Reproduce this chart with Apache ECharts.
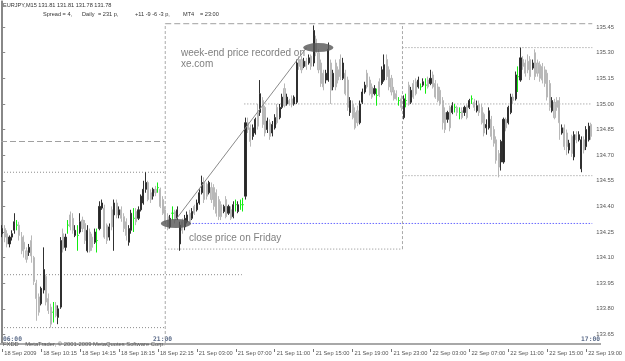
<!DOCTYPE html>
<html><head><meta charset="utf-8">
<script src="https://cdn.jsdelivr.net/npm/echarts@6/dist/echarts.min.js"></script>
<style>html,body{margin:0;padding:0;background:#fff}#c{width:625px;height:361px}</style>
</head><body><div id="c"></div>
<script>
const opens = [
134.24,134.27,134.24,134.18,134.22,134.26,134.29,134.29,134.22,134.19,
134.14,134.13,134.20,134.10,133.95,133.87,133.83,133.91,133.99,133.86,
133.81,133.78,133.82,133.75,133.81,134.24,134.16,134.29,134.35,134.33,
134.23,134.23,134.25,134.32,134.30,134.14,134.25,134.22,134.19,134.20,
134.27,134.39,134.39,134.29,134.22,134.38,134.35,134.42,134.35,134.38,
134.34,134.31,134.19,134.26,134.33,134.37,134.33,134.38,134.42,134.50,
134.54,134.48,134.46,134.50,134.51,134.50,134.44,134.38,134.34,134.28,
134.36,134.37,134.33,134.18,134.31,134.28,134.31,134.36,134.33,134.40,
134.38,134.42,134.48,134.54,134.53,134.48,134.51,134.51,134.48,134.44,
134.41,134.37,134.44,134.36,134.38,134.34,134.41,134.37,134.41,134.41,
134.46,134.89,134.86,134.81,134.83,134.95,134.95,135.02,134.98,134.85,
134.89,134.83,134.86,134.98,134.92,134.98,135.09,135.00,135.02,135.03,
135.00,135.01,135.26,135.26,135.22,135.25,135.24,135.28,135.24,135.38,
135.30,135.24,135.18,135.14,135.14,135.24,135.10,135.24,135.20,135.26,
135.15,135.18,135.14,134.95,135.00,134.95,134.96,134.89,135.01,135.07,
135.18,135.14,135.10,135.06,135.05,135.13,135.12,135.14,135.26,135.20,
135.15,135.08,135.06,135.02,135.03,134.92,135.02,135.11,135.01,135.12,
135.13,135.10,135.10,135.11,135.11,135.14,135.12,135.17,135.12,135.10,
135.08,135.02,134.95,134.91,134.98,134.95,134.98,134.98,134.95,134.96,
134.95,134.99,134.98,135.03,135.01,134.96,135.00,134.98,134.94,134.86,
134.86,134.91,134.85,134.79,134.71,134.66,134.66,134.91,134.89,134.95,
135.04,135.03,135.16,135.14,135.26,135.24,135.25,135.26,135.21,135.30,
135.24,135.23,135.22,135.20,135.18,135.12,134.96,135.01,135.02,135.02,
134.83,134.86,134.83,134.73,134.81,134.69,134.82,134.79,134.62,134.79,
134.75,134.79,134.88];
const closes = [
134.27,134.22,134.18,134.22,134.24,134.31,134.29,134.23,134.14,134.15,
134.09,134.16,134.11,133.96,133.86,133.78,133.92,134.03,133.84,133.79,
133.71,133.78,133.76,133.80,134.20,134.15,134.22,134.29,134.28,134.26,
134.26,134.23,134.31,134.27,134.20,134.26,134.14,134.16,134.25,134.20,
134.40,134.42,134.22,134.20,134.28,134.28,134.42,134.35,134.38,134.33,
134.27,134.23,134.27,134.36,134.33,134.31,134.38,134.46,134.50,134.54,
134.44,134.44,134.50,134.48,134.51,134.40,134.36,134.32,134.27,134.33,
134.36,134.32,134.38,134.29,134.26,134.33,134.35,134.31,134.37,134.36,
134.42,134.48,134.54,134.44,134.46,134.54,134.44,134.40,134.36,134.34,
134.34,134.40,134.34,134.40,134.33,134.41,134.41,134.41,134.41,134.41,
134.89,134.85,134.78,134.86,134.91,134.87,135.06,134.88,134.83,134.90,
134.81,134.88,134.92,134.89,134.98,135.04,134.99,135.04,135.00,135.00,
135.04,135.24,135.22,135.20,135.25,135.22,135.27,135.22,135.43,135.30,
135.20,135.12,135.10,135.18,135.32,135.08,135.18,135.10,135.14,135.16,
135.24,135.06,134.98,135.02,134.92,134.86,134.89,135.00,135.07,135.11,
135.10,135.06,135.04,135.09,135.05,135.05,135.20,135.23,135.16,135.10,
135.07,135.03,135.03,135.02,134.98,135.03,135.02,135.00,135.08,135.04,
135.06,135.14,135.10,135.13,135.11,135.10,135.15,135.10,135.04,135.02,
135.00,134.89,134.85,134.95,134.86,134.99,134.98,134.95,134.95,134.92,
134.98,134.92,135.02,135.03,134.98,134.99,134.95,134.89,134.83,134.88,
134.96,134.81,134.77,134.67,134.63,134.78,134.91,134.86,134.98,135.04,
135.02,135.17,135.16,135.27,135.22,135.18,135.20,135.16,135.24,135.16,
135.18,135.15,135.14,135.12,135.04,134.98,135.02,134.92,134.98,134.89,
134.86,134.75,134.75,134.77,134.71,134.82,134.79,134.82,134.79,134.73,
134.85,134.87,134.81];
const lows = [
134.22,134.19,134.16,134.16,134.20,134.24,134.26,134.20,134.12,134.10,
134.07,134.11,134.07,133.94,133.73,133.76,133.82,133.89,133.82,133.77,
133.69,133.72,133.75,133.71,133.80,134.13,134.14,134.24,134.26,134.24,
134.22,134.14,134.24,134.25,134.18,134.13,134.13,134.14,134.18,134.13,
134.26,134.38,134.21,134.18,134.20,134.26,134.14,134.33,134.33,134.31,
134.25,134.20,134.17,134.24,134.25,134.29,134.32,134.37,134.41,134.48,
134.43,134.42,134.44,134.46,134.48,134.39,134.35,134.31,134.26,134.27,
134.32,134.30,134.32,134.14,134.24,134.26,134.30,134.30,134.32,134.35,
134.37,134.41,134.47,134.42,134.44,134.47,134.42,134.38,134.34,134.32,
134.32,134.36,134.33,134.35,134.32,134.33,134.37,134.36,134.38,134.37,
134.44,134.83,134.75,134.79,134.82,134.85,134.93,134.86,134.81,134.83,
134.79,134.81,134.85,134.88,134.91,134.97,134.98,134.99,134.99,134.98,
134.99,135.00,135.20,135.18,135.21,135.20,135.23,135.20,135.22,135.28,
135.18,135.10,135.08,135.12,135.13,135.00,135.08,135.08,135.12,135.14,
135.14,135.05,134.96,134.93,134.91,134.85,134.87,134.88,135.00,135.06,
135.09,135.05,135.03,135.05,134.99,135.04,135.11,135.13,135.14,135.08,
135.05,135.02,135.02,134.99,134.96,134.91,134.98,134.99,135.00,135.03,
135.05,135.09,135.08,135.10,135.06,135.09,135.11,135.09,135.03,135.01,
134.99,134.85,134.83,134.89,134.84,134.94,134.95,134.93,134.91,134.91,
134.93,134.91,134.97,135.00,134.96,134.95,134.93,134.88,134.81,134.82,
134.85,134.79,134.75,134.65,134.57,134.61,134.65,134.84,134.88,134.94,
135.00,135.02,135.07,135.13,135.20,135.16,135.18,135.14,135.20,135.14,
135.16,135.13,135.12,135.10,135.02,134.96,134.95,134.91,134.96,134.79,
134.82,134.73,134.70,134.71,134.69,134.67,134.77,134.78,134.60,134.71,
134.73,134.78,134.79];
const highs = [
134.29,134.29,134.26,134.23,134.26,134.36,134.32,134.31,134.25,134.23,
134.16,134.18,134.23,134.11,133.97,133.89,133.93,134.16,134.00,133.89,
133.83,133.84,133.84,133.82,134.22,134.27,134.24,134.32,134.37,134.36,
134.29,134.29,134.36,134.34,134.32,134.29,134.27,134.24,134.27,134.27,
134.43,134.44,134.41,134.30,134.30,134.40,134.44,134.44,134.40,134.40,
134.36,134.33,134.29,134.38,134.39,134.39,134.40,134.47,134.55,134.60,
134.55,134.50,134.51,134.52,134.54,134.51,134.46,134.40,134.36,134.35,
134.40,134.38,134.40,134.31,134.33,134.35,134.37,134.38,134.39,134.41,
134.44,134.50,134.58,134.57,134.54,134.55,134.54,134.53,134.50,134.46,
134.43,134.41,134.46,134.41,134.40,134.43,134.44,134.43,134.44,134.45,
134.92,134.92,134.88,134.88,134.92,135.00,135.14,135.04,134.99,134.92,
134.91,134.90,134.94,135.00,135.00,135.06,135.12,135.06,135.03,135.05,
135.05,135.26,135.28,135.28,135.27,135.27,135.29,135.29,135.46,135.40,
135.32,135.26,135.20,135.20,135.36,135.26,135.20,135.26,135.22,135.29,
135.27,135.20,135.16,135.04,135.02,134.98,134.99,135.02,135.09,135.13,
135.20,135.16,135.12,135.11,135.09,135.15,135.22,135.29,135.29,135.22,
135.17,135.10,135.08,135.04,135.05,135.05,135.06,135.13,135.10,135.14,
135.15,135.16,135.12,135.15,135.15,135.16,135.20,135.19,135.14,135.12,
135.10,135.04,134.98,134.96,134.99,135.01,135.00,134.99,134.98,134.98,
134.99,135.00,135.03,135.05,135.03,135.02,135.02,135.00,134.95,134.91,
134.98,134.93,134.87,134.81,134.73,134.79,134.92,134.92,134.99,135.06,
135.06,135.19,135.22,135.33,135.28,135.26,135.29,135.28,135.26,135.32,
135.26,135.25,135.24,135.22,135.20,135.14,135.04,135.03,135.04,135.04,
134.88,134.88,134.85,134.79,134.82,134.84,134.84,134.84,134.81,134.81,
134.87,134.89,134.89];

const xTickLabels = ['18 Sep 2009','18 Sep 10:15','18 Sep 14:15','18 Sep 18:15','18 Sep 22:15',
  '21 Sep 03:00','21 Sep 07:00','21 Sep 11:00','21 Sep 15:00','21 Sep 19:00','21 Sep 23:00',
  '22 Sep 03:00','22 Sep 07:00','22 Sep 11:00','22 Sep 15:00','22 Sep 19:00'];
const barsPerTick = 16;
const yTickLabels = [133.65,133.80,133.95,134.10,134.25,134.40,134.55,134.70,134.85,135.00,135.15,135.30,135.45];
const yRange = [133.594, 135.603];

// level lines: [fromBar, toBar, price]
const dottedLevels = [[-0.5,67,134.60],[-0.5,67,133.69],[-0.5,98.5,134.00],[67,164.5,134.15],
  [99.5,242.5,135.00],[164.5,242.5,135.33],[164.5,242.5,134.58]];
const dashedLevels = [[-0.5,67,134.78],[67,242.5,135.47]];
const fridayClose = [[77,242.5,134.30]];
// vertical session breaks: [bar, fromPrice, toPrice]
const sessionBreaks = [[67,133.594,135.47],[164.5,134.15,135.47]];
const markers = [[71.4,134.30],[129.9,135.33]];
const trendLine = [[71.2,134.32],[125.1,135.33]];

const N = opens.length;
const categories = opens.map((_, i) => i);
const candles = opens.map((o, i) => [o, closes[i], lows[i], highs[i]]);

const hSeries = (arr, color, type) => arr.map(a => ({
  type: 'line', xAxisIndex: 1, yAxisIndex: 0, symbol: 'none', silent: true, z: 1,
  lineStyle: { color: color, width: 1, type: type },
  data: [[a[0], a[2]], [a[1], a[2]]]
}));
const vSeries = (arr, color, type) => arr.map(a => ({
  type: 'line', xAxisIndex: 1, yAxisIndex: 0, symbol: 'none', silent: true, z: 1,
  lineStyle: { color: color, width: 1, type: type },
  data: [[a[0], a[1]], [a[0], a[2]]]
}));

const F = 'Liberation Sans, Arial, sans-serif';
const txt = (x, y, s, opt) => Object.assign({ type: 'text', x: x, y: y, silent: true,
  style: Object.assign({ text: s, fill: '#333', font: '5.6px ' + F, textVerticalAlign: 'middle' }, opt || {}) });

const chart = echarts.init(document.getElementById('c'), null, { renderer: 'canvas' });
chart.setOption({
  animation: false,
  backgroundColor: '#ffffff',
  grid: { left: 1, right: 24, top: 1, bottom: 17, containLabel: false },
  xAxis: [{
    type: 'category', data: categories, boundaryGap: true, offset: 5,
    axisLine: { show: false },
    axisTick: { show: true, interval: barsPerTick - 1, alignWithLabel: true, length: 3, lineStyle: { color: '#777' } },
    axisLabel: { interval: barsPerTick - 1, align: 'left', margin: 1, padding: [0, 0, 0, 2],
      fontSize: 5.7, fontFamily: F, color: '#555',
      formatter: (v, idx) => xTickLabels[Math.round(idx / barsPerTick)] || '' },
    splitLine: { show: false }
  }, {
    type: 'value', min: -0.5, max: N - 0.5, show: false
  }],
  yAxis: [{
    type: 'value', position: 'right', min: yRange[0], max: yRange[1], scale: true,
    axisLine: { show: true, lineStyle: { color: '#888' } },
    axisTick: { show: true, length: 3, customValues: yTickLabels, lineStyle: { color: '#888' } },
    axisLabel: { customValues: yTickLabels, formatter: v => v.toFixed(2), margin: 4,
      fontSize: 5.8, fontFamily: F, color: '#555' },
    splitLine: { show: false }
  }, {
    type: 'value', position: 'left', min: yRange[0], max: yRange[1],
    axisLine: { show: true, lineStyle: { color: '#888' } },
    axisTick: { show: false }, axisLabel: { show: false }, splitLine: { show: false }
  }],
  series: [
    ...hSeries(dottedLevels, '#8c8c8c', [1, 2]),
    ...hSeries(dashedLevels, '#a0a0a0', [6, 3]),
    ...hSeries(fridayClose, '#6a6aff', [1.5, 1.5]),
    ...vSeries(sessionBreaks, '#aaaaaa', [3, 2]),
    {
      type: 'candlestick', xAxisIndex: 0, yAxisIndex: 0, data: candles, barWidth: 1.6, z: 2,
      itemStyle: { color: '#262626', color0: '#c6c6c6', borderColor: '#303030', borderColor0: '#b8b8b8',
        borderColorDoji: '#11ee11', borderWidth: 1 }
    },
    {
      type: 'line', xAxisIndex: 1, yAxisIndex: 0, symbol: 'none', silent: true, z: 3,
      lineStyle: { color: '#8a8a8a', width: 1 }, data: trendLine
    },
    {
      type: 'scatter', xAxisIndex: 1, yAxisIndex: 0, symbol: 'circle', symbolSize: [30, 9], silent: true, z: 4,
      itemStyle: { color: '#555555' }, data: markers
    }
  ],
  graphic: [
    { type: 'rect', shape: { x: 0, y: 343, width: 601, height: 2 }, style: { fill: '#a8a8a8' }, silent: true, z: 10 },
    txt(3, 5, 'EURJPY,M15 131.81 131.81 131.78 131.78'),
    txt(43, 14, 'Spread = 4,'),
    txt(82, 14, 'Daily'),
    txt(98, 14, '= 231 p,'),
    txt(135, 14, '+11 -9 -6 -3 p,'),
    txt(183, 14, 'MT4'),
    txt(200, 14, '= 23:00'),
    txt(181, 53, 'week-end price recorded on', { font: '10px ' + F, fill: '#808080' }),
    txt(181, 64, 'xe.com', { font: '10px ' + F, fill: '#808080' }),
    txt(189, 238, 'close price on Friday', { font: '10px ' + F, fill: '#808080' }),
    txt(3, 339, '06:00', { font: 'bold 6.3px DejaVu Sans Mono, monospace', fill: '#5a6a88' }),
    txt(172, 339, '21:00', { font: 'bold 6.3px DejaVu Sans Mono, monospace', fill: '#5a6a88', textAlign: 'right' }),
    txt(600, 339, '17:00', { font: 'bold 6.3px DejaVu Sans Mono, monospace', fill: '#5a6a88', textAlign: 'right' }),
    Object.assign(txt(3, 344, 'FXDD    MetaTrader, \u00a9 2001-2009 MetaQuotes Software Corp.', { fill: '#555', font: '5.8px ' + F }), { z: 11 })
  ]
});
</script>
</body></html>
